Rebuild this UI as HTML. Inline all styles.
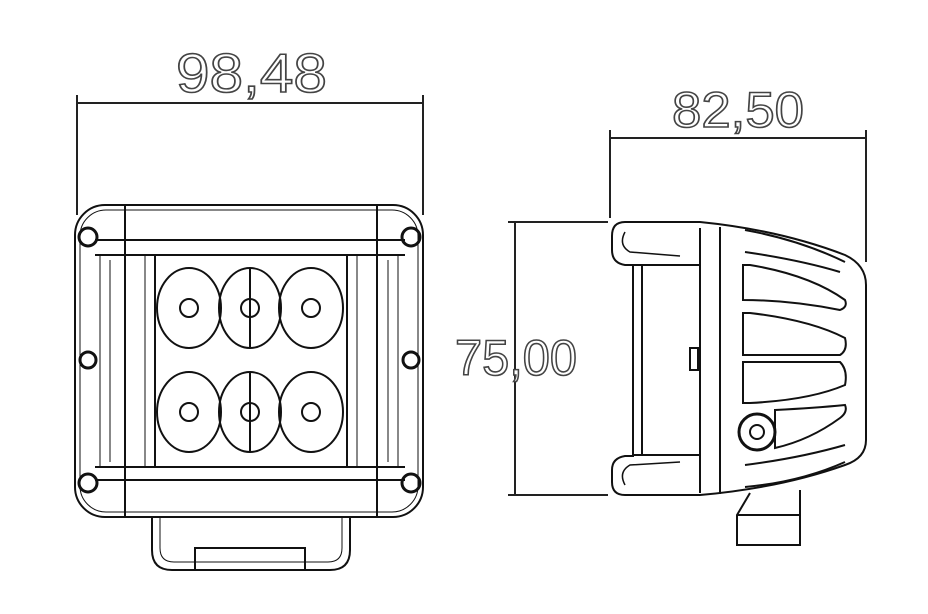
<!DOCTYPE html>
<html><head><meta charset="utf-8"><style>html,body{margin:0;padding:0;background:#fff}svg{display:block}</style></head>
<body>
<svg width="928" height="614" viewBox="0 0 928 614" xmlns="http://www.w3.org/2000/svg">
<g stroke="#222" stroke-width="2" fill="none">
<line x1="77" y1="103" x2="423" y2="103"/>
<line x1="77" y1="95" x2="77" y2="215"/>
<line x1="423" y1="95" x2="423" y2="215"/>
<line x1="610" y1="138" x2="866" y2="138"/>
<line x1="610" y1="130" x2="610" y2="218"/>
<line x1="866" y1="130" x2="866" y2="262"/>
<line x1="515" y1="222" x2="515" y2="495"/>
<line x1="508" y1="222" x2="608" y2="222"/>
<line x1="508" y1="495" x2="608" y2="495"/>
</g>
<g font-family="Liberation Sans, sans-serif" fill="#fff" stroke="#444" stroke-width="1.6" font-size="55">
<text x="176" y="92" textLength="151" lengthAdjust="spacingAndGlyphs">98,48</text>
<text x="672" y="127" textLength="132" lengthAdjust="spacingAndGlyphs" font-size="50">82,50</text>
<text x="455" y="375" textLength="122" lengthAdjust="spacingAndGlyphs" font-size="50">75,00</text>
</g>
<g stroke="#111" stroke-width="2" fill="none">
<rect x="75" y="205" width="348" height="312" rx="30"/>
<rect x="80" y="210" width="338" height="302" rx="26" stroke-width="1"/>
<line x1="95" y1="240" x2="405" y2="240"/>
<line x1="95" y1="255" x2="405" y2="255"/>
<line x1="95" y1="467" x2="405" y2="467"/>
<line x1="95" y1="480" x2="405" y2="480"/>
<line x1="125" y1="205" x2="125" y2="517"/>
<line x1="377" y1="205" x2="377" y2="517"/>
<line x1="100" y1="255" x2="100" y2="467" stroke-width="1"/>
<line x1="110" y1="260" x2="110" y2="462" stroke-width="1"/>
<line x1="398" y1="255" x2="398" y2="467" stroke-width="1"/>
<line x1="388" y1="260" x2="388" y2="462" stroke-width="1"/>
<line x1="145" y1="255" x2="145" y2="467" stroke-width="1"/>
<line x1="357" y1="255" x2="357" y2="467" stroke-width="1"/>
<rect x="155" y="255" width="192" height="212"/>
<g stroke-width="3">
<circle cx="88" cy="237" r="9"/><circle cx="411" cy="237" r="9"/>
<circle cx="88" cy="483" r="9"/><circle cx="411" cy="483" r="9"/>
<circle cx="88" cy="360" r="8"/><circle cx="411" cy="360" r="8"/>
</g>
<ellipse cx="189" cy="308" rx="32" ry="40"/><ellipse cx="250" cy="308" rx="31" ry="40"/><ellipse cx="311" cy="308" rx="32" ry="40"/>
<ellipse cx="189" cy="412" rx="32" ry="40"/><ellipse cx="250" cy="412" rx="31" ry="40"/><ellipse cx="311" cy="412" rx="32" ry="40"/>
<line x1="250" y1="268" x2="250" y2="348"/><line x1="250" y1="372" x2="250" y2="452"/>
<circle cx="189" cy="308" r="9"/><circle cx="250" cy="308" r="9"/><circle cx="311" cy="308" r="9"/>
<circle cx="189" cy="412" r="9"/><circle cx="250" cy="412" r="9"/><circle cx="311" cy="412" r="9"/>
<path d="M152 517 V550 Q152 570 172 570 H330 Q350 570 350 550 V517"/>
<path d="M160 517 V548 Q160 562 174 562 H328 Q342 562 342 548 V517" stroke-width="1"/>
<rect x="195" y="548" width="110" height="22"/>
<path d="M625 222 H700 Q780 230 845 255 Q866 265 866 285 V440 Q866 458 845 465 Q780 488 700 495 H625 Q612 495 612 482 V470 Q612 458 625 456 H633 V265 H625 Q612 263 612 250 V236 Q612 222 625 222 Z"/>
<path d="M625 232 Q618 245 630 252 L680 256" stroke-width="1.5"/>
<path d="M625 485 Q618 472 630 465 L680 462" stroke-width="1.5"/>
<line x1="642" y1="265" x2="642" y2="455"/>
<line x1="700" y1="228" x2="700" y2="493"/>
<line x1="720" y1="227" x2="720" y2="494"/>
<line x1="633" y1="265" x2="700" y2="265"/>
<line x1="633" y1="455" x2="700" y2="455"/>
<rect x="690" y="348" width="8" height="22"/>
<path d="M745 230 Q800 240 845 262"/>
<path d="M745 252 Q800 260 840 272"/>
<path d="M743 265 H750 Q810 275 845 300 Q848 307 840 310 Q790 300 743 300 Z"/>
<path d="M743 313 H750 Q810 320 845 338 Q848 350 840 355 H743 Z"/>
<path d="M743 362 H840 Q848 370 845 385 Q810 400 750 403 H743 Z"/>
<path d="M775 410 Q815 408 845 405 Q848 412 840 418 Q810 440 775 448 Z"/>
<path d="M745 465 Q800 458 845 445"/>
<path d="M745 487 Q800 482 845 462"/>
<circle cx="757" cy="432" r="18" stroke-width="3"/>
<circle cx="757" cy="432" r="7"/>
<path d="M750 493 L737 515 V545 H800 V490"/>
<line x1="737" y1="515" x2="800" y2="515"/>
</g>
</svg>
</body></html>
